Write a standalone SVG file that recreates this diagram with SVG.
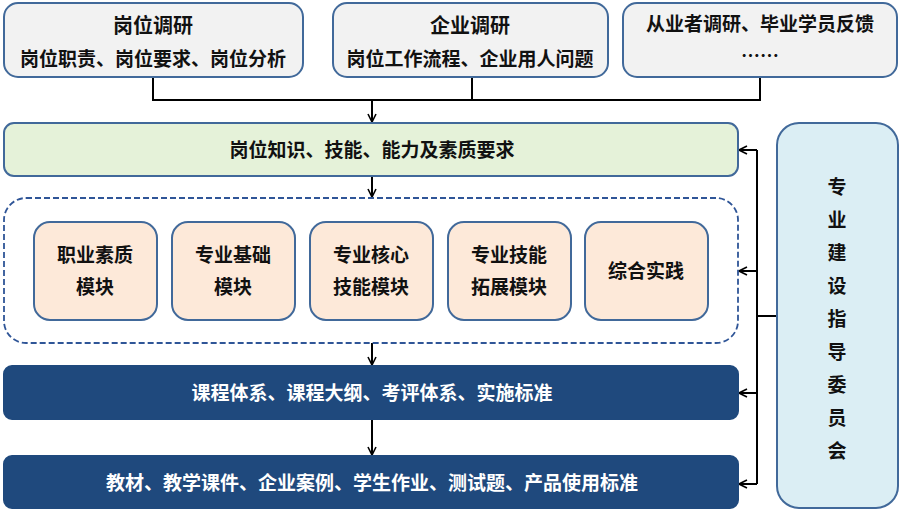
<svg xmlns="http://www.w3.org/2000/svg" width="901" height="511" viewBox="0 0 901 511">
<style>
text{font-family:"Noto Sans CJK SC","Liberation Sans",sans-serif;font-weight:bold;text-anchor:middle;fill:#111;font-size:19px}
.top{fill:#f2f2f2;stroke:#41699a;stroke-width:2}
.mod{fill:#fde9d9;stroke:#41699a;stroke-width:2}
.navy{fill:#1f497d;stroke:#1f497d;stroke-width:2}
.w{fill:#fff}
.t{font-size:20px}
.c{fill:none;stroke:#000;stroke-width:2}
</style>
<defs><marker id="a" viewBox="0 0 10 10" refX="9" refY="5" markerWidth="10" markerHeight="10" markerUnits="userSpaceOnUse" orient="auto"><path d="M1 1L9 5L1 9" fill="none" stroke="#000" stroke-width="1.6"/></marker></defs>
<g id="connectors" class="c">
<path d="M153 77V100H760V77M472 77V100"/>
<path d="M372 100V122" marker-end="url(#a)"/>
<path d="M372 176V197" marker-end="url(#a)"/>
<path d="M372 343V365" marker-end="url(#a)"/>
<path d="M372 419V455" marker-end="url(#a)"/>
<path d="M777 316H757M757 150V484"/>
<path d="M757 150H739" marker-end="url(#a)"/>
<path d="M757 271H739" marker-end="url(#a)"/>
<path d="M757 393H739" marker-end="url(#a)"/>
<path d="M757 484H739" marker-end="url(#a)"/>
</g>
<g id="n1"><rect class="top" x="4" y="3" width="299" height="74" rx="14"/><text class="t" x="153" y="33">岗位调研</text><text x="153" y="66">岗位职责、岗位要求、岗位分析</text></g>
<g id="n2"><rect class="top" x="333" y="3" width="275" height="74" rx="14"/><text class="t" x="470" y="33">企业调研</text><text x="470" y="66">岗位工作流程、企业用人问题</text></g>
<g id="n3"><rect class="top" x="623" y="3" width="274" height="74" rx="14"/><text x="760" y="31">从业者调研、毕业学员反馈</text><text x="760" y="63">……</text></g>
<g id="n4"><rect x="4" y="123" width="734" height="53" rx="10" fill="#e5f2d9" stroke="#41699a" stroke-width="2"/><text x="372" y="157">岗位知识、技能、能力及素质要求</text></g>
<g id="group"><rect x="4" y="198" width="734" height="145" rx="22" fill="none" stroke="#2f5597" stroke-width="1.8" stroke-dasharray="6 3"/></g>
<g id="m1"><rect class="mod" x="34" y="222" width="123" height="98" rx="16"/><text x="95" y="262">职业素质</text><text x="95" y="294">模块</text></g>
<g id="m2"><rect class="mod" x="172" y="222" width="123" height="98" rx="16"/><text x="233" y="262">专业基础</text><text x="233" y="294">模块</text></g>
<g id="m3"><rect class="mod" x="310" y="222" width="123" height="98" rx="16"/><text x="371" y="262">专业核心</text><text x="371" y="294">技能模块</text></g>
<g id="m4"><rect class="mod" x="448" y="222" width="123" height="98" rx="16"/><text x="509" y="262">专业技能</text><text x="509" y="294">拓展模块</text></g>
<g id="m5"><rect class="mod" x="585" y="222" width="123" height="98" rx="16"/><text x="646" y="278">综合实践</text></g>
<g id="n5"><rect class="navy" x="4" y="366" width="734" height="53" rx="8"/><text class="w" x="372" y="400">课程体系、课程大纲、考评体系、实施标准</text></g>
<g id="n6"><rect class="navy" x="4" y="456" width="734" height="52" rx="8"/><text class="w" x="372" y="490">教材、教学课件、企业案例、学生作业、测试题、产品使用标准</text></g>
<g id="n7"><rect x="777" y="123" width="121" height="385" rx="22" fill="#dbeef4" stroke="#41699a" stroke-width="2"/>
<text x="837"><tspan x="837" y="194">专</tspan><tspan x="837" y="227">业</tspan><tspan x="837" y="260">建</tspan><tspan x="837" y="293">设</tspan><tspan x="837" y="326">指</tspan><tspan x="837" y="359">导</tspan><tspan x="837" y="392">委</tspan><tspan x="837" y="425">员</tspan><tspan x="837" y="458">会</tspan></text></g>
</svg>
